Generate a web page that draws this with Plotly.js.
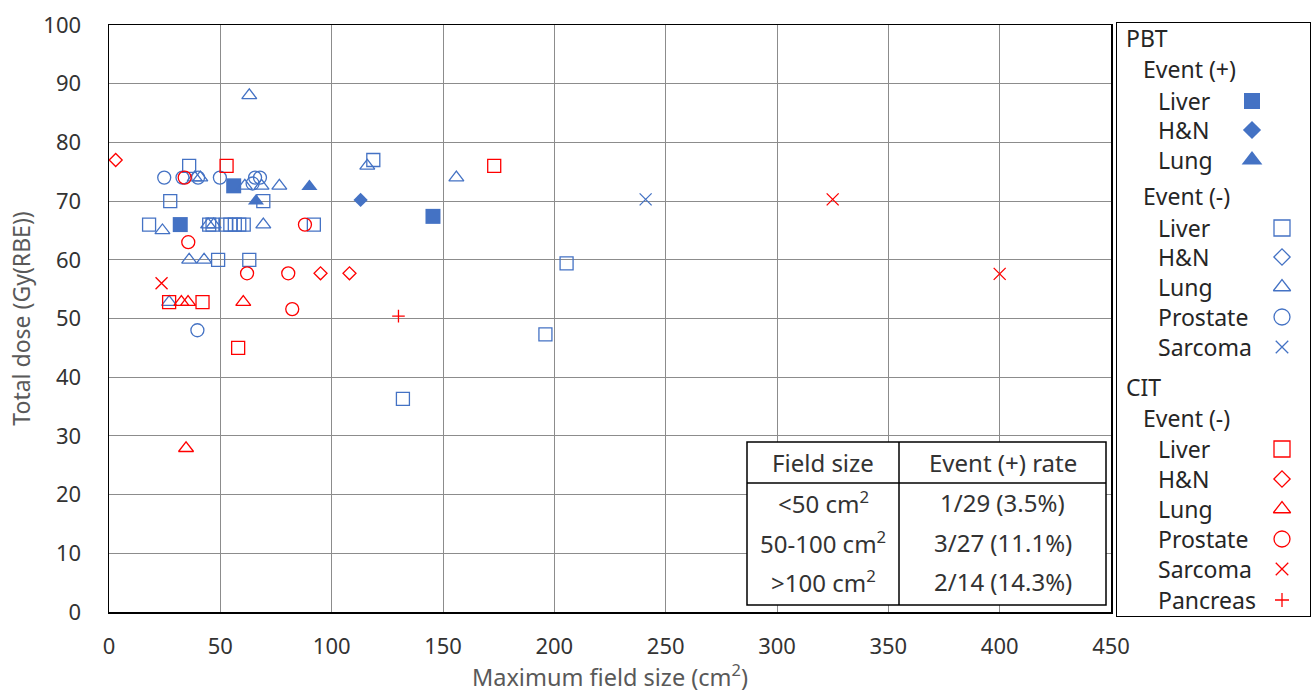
<!DOCTYPE html>
<html><head><meta charset="utf-8">
<script src="https://cdn.plot.ly/plotly-3.0.1.min.js"></script>
<style>html,body{margin:0;padding:0;background:#fff}#chart{width:1313px;height:693px}</style>
</head><body><div id="chart"></div>
<script>
// ---------------- DATA ----------------
// PBT, Event (+)
const pbtPosLiverX = [32, 56, 145.5];
const pbtPosLiverY = [66, 72.6, 67.4];
const pbtPosHNX = [113];
const pbtPosHNY = [70.2];
const pbtPosLungX = [66, 90];
const pbtPosLungY = [70, 72.5];
// PBT, Event (-)
const pbtNegLiverX = [36, 27.5, 69.3, 18, 45, 46.5, 52.5, 54.5, 56.5, 58.5, 60.5, 92, 49, 63, 118.7, 205.5, 196, 132];
const pbtNegLiverY = [76, 70, 70, 66, 66, 66, 66, 66, 66, 66, 66, 66, 60, 60, 77, 59.4, 47.3, 36.3];
const pbtNegHNX = [];
const pbtNegHNY = [];
const pbtNegLungX = [63, 38.5, 41, 61, 68.5, 76.5, 24, 44.5, 47, 69.3, 36, 42.7, 27, 116, 156];
const pbtNegLungY = [88, 74, 74, 72.6, 72.6, 72.6, 65, 66, 66, 66, 60, 60, 52.8, 76, 74];
const pbtNegProstateX = [24.8, 33, 40, 49.8, 64.5, 65.6, 67.8, 39.7];
const pbtNegProstateY = [74, 74, 74, 74, 73, 74, 74, 48];
const pbtNegSarcomaX = [241];
const pbtNegSarcomaY = [70.3];
// CIT, Event (-)
const citLiverX = [52.8, 173, 27, 42, 58];
const citLiverY = [76, 76, 52.8, 52.8, 45];
const citHNX = [3, 95, 108];
const citHNY = [77, 57.7, 57.7];
const citLungX = [32.5, 35.5, 60.3, 34.6];
const citLungY = [52.8, 52.8, 52.8, 27.9];
const citProstateX = [34, 35.6, 88, 62, 80.5, 82.3];
const citProstateY = [74, 63, 66, 57.7, 57.7, 51.6];
const citSarcomaX = [23.6, 325, 400];
const citSarcomaY = [56, 70.3, 57.6];
const citPancreasX = [130];
const citPancreasY = [50.4];

// Table text
const tableHeader = ['Field size', 'Event (+) rate'];
const fieldSizeBins = ['&lt;50 cm<sup>2</sup>', '50-100 cm<sup>2</sup>', '&gt;100 cm<sup>2</sup>'];
const eventRates = ['1/29 (3.5%)', '3/27 (11.1%)', '2/14 (14.3%)'];

// Axis ticks
const xTickVals = [0, 50, 100, 150, 200, 250, 300, 350, 400, 450];
const yTickVals = [0, 10, 20, 30, 40, 50, 60, 70, 80, 90, 100];

// ---------------- STYLE / LAYOUT ----------------
const BLUE = '#4472C4', RED = '#FF0000';
const FONT = '"Noto Sans", "Open Sans", sans-serif';

const series = [
  {x: pbtPosLiverX, y: pbtPosLiverY, sym: 'square', c: BLUE, filled: true, s: 15, ls: 16},
  {x: pbtPosHNX, y: pbtPosHNY, sym: 'diamond', c: BLUE, filled: true, s: 11, ls: 14},
  {x: pbtPosLungX, y: pbtPosLungY, sym: 'triangle-up', c: BLUE, filled: true, s: 14, ls: 18},
  {x: pbtNegLiverX, y: pbtNegLiverY, sym: 'square', c: BLUE, filled: false, s: 13, ls: 16},
  {x: pbtNegHNX, y: pbtNegHNY, sym: 'diamond', c: BLUE, filled: false, s: 10, ls: 12.5},
  {x: pbtNegLungX, y: pbtNegLungY, sym: 'triangle-up', c: BLUE, filled: false, s: 13, ls: 15},
  {x: pbtNegProstateX, y: pbtNegProstateY, sym: 'circle', c: BLUE, filled: false, s: 13, ls: 16},
  {x: pbtNegSarcomaX, y: pbtNegSarcomaY, sym: 'x-thin', c: BLUE, filled: false, s: 12, ls: 12.5},
  {x: citLiverX, y: citLiverY, sym: 'square', c: RED, filled: false, s: 13, ls: 16},
  {x: citHNX, y: citHNY, sym: 'diamond', c: RED, filled: false, s: 10, ls: 12.5},
  {x: citLungX, y: citLungY, sym: 'triangle-up', c: RED, filled: false, s: 13, ls: 15},
  {x: citProstateX, y: citProstateY, sym: 'circle', c: RED, filled: false, s: 13, ls: 16},
  {x: citSarcomaX, y: citSarcomaY, sym: 'x-thin', c: RED, filled: false, s: 12, ls: 12.5},
  {x: citPancreasX, y: citPancreasY, sym: 'cross-thin', c: RED, filled: false, s: 9, ls: 10}
];

// legend rows: [text, indent level, series index]
const legendRows = [
  ['PBT', 0, null], ['Event (+)', 1, null], ['Liver', 2, 0], ['H&N', 2, 1], ['Lung', 2, 2],
  ['Event (-)', 1, null], ['Liver', 2, 3], ['H&N', 2, 4], ['Lung', 2, 5], ['Prostate', 2, 6], ['Sarcoma', 2, 7],
  ['CIT', 0, null], ['Event (-)', 1, null], ['Liver', 2, 8], ['H&N', 2, 9], ['Lung', 2, 10],
  ['Prostate', 2, 11], ['Sarcoma', 2, 12], ['Pancreas', 2, 13]
];
const legendRowY = [38, 69, 101, 130, 160, 196, 228, 257, 287, 317, 347, 387, 418, 449, 479, 509, 539, 569, 600];
const legendIndentX = [1124, 1141, 1156];
const legendMarkX = {filled: 1252, open: 1282};

// pixel frame
const W = 1313, H = 693;
const M = {l: 109, r: 0, t: 15, b: 70};
const PW = W - M.l - M.r, PH = H - M.t - M.b;
const px = v => (v - M.l) / PW;
const py = v => (H - M.b - v) / PH;
const plotBox = {x0: 109, x1: 1111, y0: 25, y1: 612};
const legBox = {x0: 1117, x1: 1310, y0: 22.7, y1: 616};
const tbl = {x0: 747, x1: 1106, y0: 442, y1: 605, hdr: 483, col: 899, rowY: [502, 542, 581], hdrY: 462};

function markerFor(s, size) {
  return {symbol: s.filled ? s.sym : s.sym + '-open',
          size: size, color: s.c, line: {color: s.c, width: s.filled ? 0 : 1.3}};
}

const traces = [];
series.forEach(s => {
  traces.push({type: 'scatter', mode: 'markers', x: s.x, y: s.y, xaxis: 'x', yaxis: 'y',
    marker: markerFor(s, s.s), hoverinfo: 'x+y', showlegend: false, cliponaxis: false});
});
// legend markers
legendRows.forEach((r, i) => {
  if (r[2] === null) return;
  const s = series[r[2]];
  traces.push({type: 'scatter', mode: 'markers', x: [s.filled ? legendMarkX.filled : legendMarkX.open], y: [legendRowY[i]],
    xaxis: 'x2', yaxis: 'y2', marker: markerFor(s, s.ls), hoverinfo: 'skip', showlegend: false});
});

const annotations = [];
legendRows.forEach((r, i) => {
  annotations.push({xref: 'x2', yref: 'y2', x: legendIndentX[r[1]], y: legendRowY[i], text: r[0],
    xanchor: 'left', yanchor: 'middle', showarrow: false, font: {family: FONT, size: 23, color: '#262626'}});
});
// table texts
const colCx = [(tbl.x0 + tbl.col) / 2, (tbl.col + tbl.x1) / 2];
const tFont = {family: FONT, size: 24, color: '#333'};
tableHeader.forEach((t, j) => annotations.push({xref: 'paper', yref: 'paper', x: px(colCx[j]), y: py(tbl.hdrY), text: t,
  showarrow: false, xanchor: 'center', yanchor: 'middle', font: tFont}));
fieldSizeBins.forEach((t, k) => annotations.push({xref: 'paper', yref: 'paper', x: px(colCx[0]), y: py(tbl.rowY[k]), text: t,
  showarrow: false, xanchor: 'center', yanchor: 'middle', font: tFont}));
eventRates.forEach((t, k) => annotations.push({xref: 'paper', yref: 'paper', x: px(colCx[1]), y: py(tbl.rowY[k]), text: t,
  showarrow: false, xanchor: 'center', yanchor: 'middle', font: tFont}));

const shapes = [
  {type: 'rect', xref: 'paper', yref: 'paper', x0: px(tbl.x0), x1: px(tbl.x1), y0: py(tbl.y1), y1: py(tbl.y0),
   fillcolor: '#fff', line: {color: '#000', width: 1.5}, layer: 'above'},
  {type: 'line', xref: 'paper', yref: 'paper', x0: px(tbl.x0), x1: px(tbl.x1), y0: py(tbl.hdr), y1: py(tbl.hdr),
   line: {color: '#000', width: 1.5}, layer: 'above'},
  {type: 'line', xref: 'paper', yref: 'paper', x0: px(tbl.col), x1: px(tbl.col), y0: py(tbl.y1), y1: py(tbl.y0),
   line: {color: '#000', width: 1.5}, layer: 'above'}
];

const layout = {
  width: W, height: H, margin: M, paper_bgcolor: '#fff', plot_bgcolor: '#fff', showlegend: false,
  font: {family: FONT, size: 22, color: '#333'},
  xaxis: {domain: [px(plotBox.x0), px(plotBox.x1)], range: [0, 450], tickvals: xTickVals, ticks: '',
    showgrid: true, gridcolor: '#8c8c8c', gridwidth: 1, zeroline: false,
    showline: true, mirror: true, linecolor: '#000', linewidth: 1.5,
    tickfont: {family: FONT, size: 22, color: '#333'}, ticklabelstandoff: 14,
    title: {text: 'Maximum field size (cm<sup>2</sup>)', standoff: 12, font: {family: FONT, size: 23.5, color: '#595959'}}},
  yaxis: {domain: [py(plotBox.y1), py(plotBox.y0)], range: [0, 100], tickvals: yTickVals, ticks: '',
    showgrid: true, gridcolor: '#8c8c8c', gridwidth: 1, zeroline: false,
    showline: true, mirror: true, linecolor: '#000', linewidth: 1.5,
    tickfont: {family: FONT, size: 22, color: '#333'}, ticklabelstandoff: 22,
    title: {text: 'Total dose (Gy(RBE))', standoff: 6, font: {family: FONT, size: 23, color: '#595959'}}},
  xaxis2: {domain: [px(legBox.x0), px(legBox.x1)], range: [legBox.x0, legBox.x1], anchor: 'y2',
    showgrid: false, zeroline: false, showticklabels: false, ticks: '', showline: true, mirror: true, linecolor: '#000', linewidth: 1.2, fixedrange: true},
  yaxis2: {domain: [py(legBox.y1), py(legBox.y0)], range: [legBox.y1, legBox.y0], anchor: 'x2',
    showgrid: false, zeroline: false, showticklabels: false, ticks: '', showline: true, mirror: true, linecolor: '#000', linewidth: 1.2, fixedrange: true},
  annotations: annotations, shapes: shapes
};

Plotly.newPlot('chart', traces, layout, {displayModeBar: false, staticPlot: true});
</script>
</body></html>
